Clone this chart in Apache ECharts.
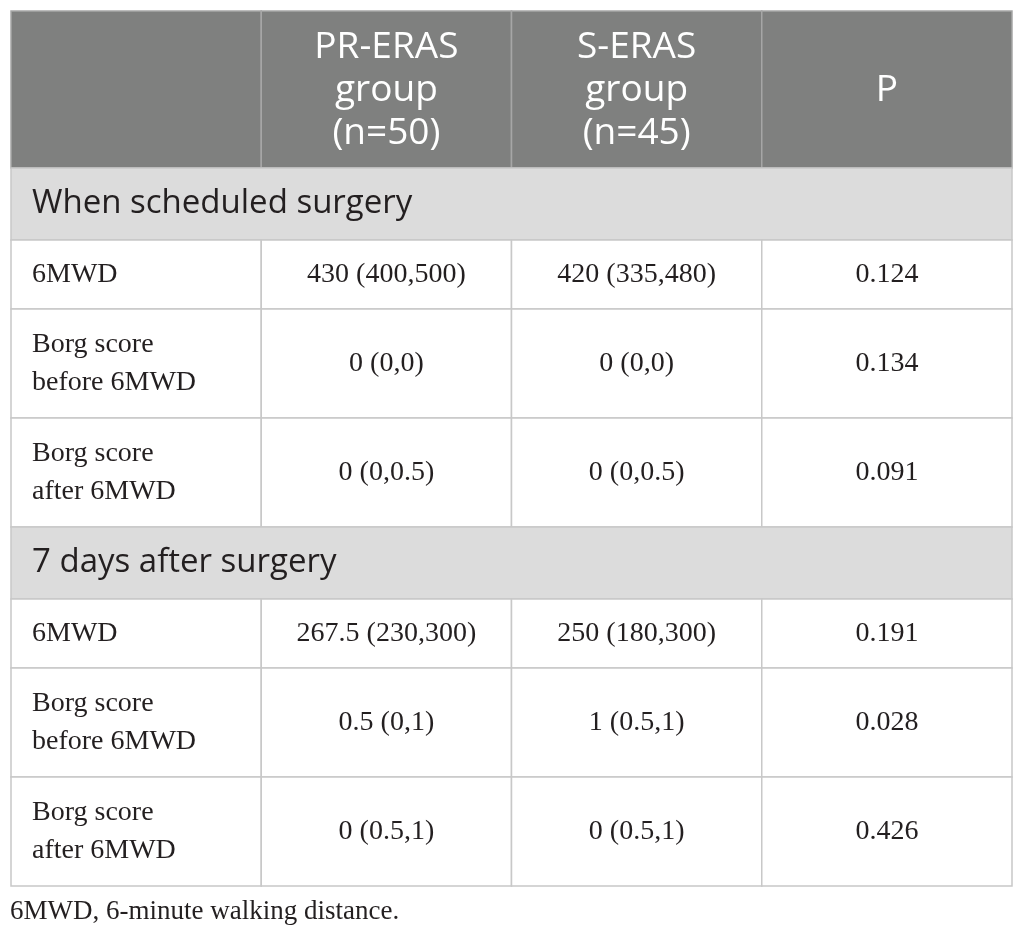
<!DOCTYPE html>
<html>
<head>
<meta charset="utf-8">
<script src="https://cdn.jsdelivr.net/npm/echarts@6/dist/echarts.min.js"></script>
<style>
html,body{margin:0;padding:0;background:#fff;}
#chart{width:1026px;height:937px;}
</style>
</head>
<body>
<div id="chart"></div>
<script>
// ---- data ----
const columns = ['', 'PR-ERAS\ngroup\n(n=50)', 'S-ERAS\ngroup\n(n=45)', 'P'];
const sections = ['When scheduled surgery', '7 days after surgery'];
const rowLabels = ['6MWD', 'Borg score\nbefore 6MWD', 'Borg score\nafter 6MWD',
                   '6MWD', 'Borg score\nbefore 6MWD', 'Borg score\nafter 6MWD'];
const prValues = ['430 (400,500)', '0 (0,0)', '0 (0,0.5)', '267.5 (230,300)', '0.5 (0,1)', '0 (0.5,1)'];
const sValues = ['420 (335,480)', '0 (0,0)', '0 (0,0.5)', '250 (180,300)', '1 (0.5,1)', '0 (0.5,1)'];
const pValues = ['0.124', '0.134', '0.091', '0.191', '0.028', '0.426'];
const footnote = '6MWD, 6-minute walking distance.';

// ---- layout (row heights in axis units) ----
const H_HEADER = 157, H_SECTION = 72, H_ONE = 69, H_TWO = 109;

const cells = [];   // parallel info: type + text
const data = [];    // [col0, col1, y0, y1]
let y = 0;
function addCell(c0, c1, y0, y1, type, text) {
  data.push([c0, c1, y0, y1]);
  cells.push({type, text});
}
// header
columns.forEach((t, i) => addCell(i, i + 1, y, y + H_HEADER, 'header', t));
y += H_HEADER;
for (let s = 0; s < sections.length; s++) {
  addCell(0, 4, y, y + H_SECTION, 'section', sections[s]);
  y += H_SECTION;
  for (let r = s * 3; r < s * 3 + 3; r++) {
    const h = rowLabels[r].indexOf('\n') >= 0 ? H_TWO : H_ONE;
    addCell(0, 1, y, y + h, 'label', rowLabels[r]);
    addCell(1, 2, y, y + h, 'value', prValues[r]);
    addCell(2, 3, y, y + h, 'value', sValues[r]);
    addCell(3, 4, y, y + h, 'value', pValues[r]);
    y += h;
  }
}
const TOTAL = y;

const chart = echarts.init(document.getElementById('chart'));
chart.setOption({
  animation: false,
  title: {
    text: footnote, left: 5, top: 893,
    textStyle: {fontFamily: 'Liberation Serif', fontSize: 27, fontWeight: 'normal', color: '#231f20'}
  },
  grid: {left: 11, right: 14, top: 11, height: TOTAL},
  xAxis: {type: 'value', min: 0, max: 4, show: false},
  yAxis: {type: 'value', min: 0, max: TOTAL, inverse: true, show: false},
  series: [{
    type: 'custom',
    clip: false,
    data: data,
    encode: {x: [0, 1], y: [2, 3]},
    renderItem: function (params, api) {
      const idx = params.dataIndex;
      const info = cells[idx];
      const p0 = api.coord([api.value(0), api.value(2)]);
      const p1 = api.coord([api.value(1), api.value(3)]);
      const x0 = p0[0], y0 = p0[1], w = p1[0] - p0[0], h = p1[1] - p0[1];
      let fill = '#ffffff', stroke = '#c8c8c8';
      let txt;
      if (info.type === 'header') {
        fill = '#7f807f'; stroke = '#a6a6a6';
        txt = {x: x0 + w / 2, y: y0 + h / 2 + 1, text: info.text, align: 'center', verticalAlign: 'middle',
               fontFamily: 'Open Sans', fontSize: 37, lineHeight: 43, fill: '#ffffff'};
      } else if (info.type === 'section') {
        fill = '#dcdcdc';
        txt = {x: x0 + 21, y: y0 + h / 2, text: info.text, align: 'left', verticalAlign: 'middle',
               fontFamily: 'Open Sans', fontSize: 33, fill: '#231f20'};
      } else if (info.type === 'label') {
        txt = {x: x0 + 21, y: y0 + h / 2, text: info.text, align: 'left', verticalAlign: 'middle',
               fontFamily: 'Liberation Serif', fontSize: 28, lineHeight: 38, fill: '#231f20'};
      } else {
        txt = {x: x0 + w / 2, y: y0 + h / 2, text: info.text, align: 'center', verticalAlign: 'middle',
               fontFamily: 'Liberation Serif', fontSize: 28, lineHeight: 38, fill: '#231f20'};
      }
      return {
        type: 'group',
        children: [
          {type: 'rect', shape: {x: x0, y: y0, width: w, height: h},
           style: {fill: fill, stroke: stroke, lineWidth: 1.5}},
          {type: 'text', style: txt}
        ]
      };
    }
  }]
});
</script>
</body>
</html>
